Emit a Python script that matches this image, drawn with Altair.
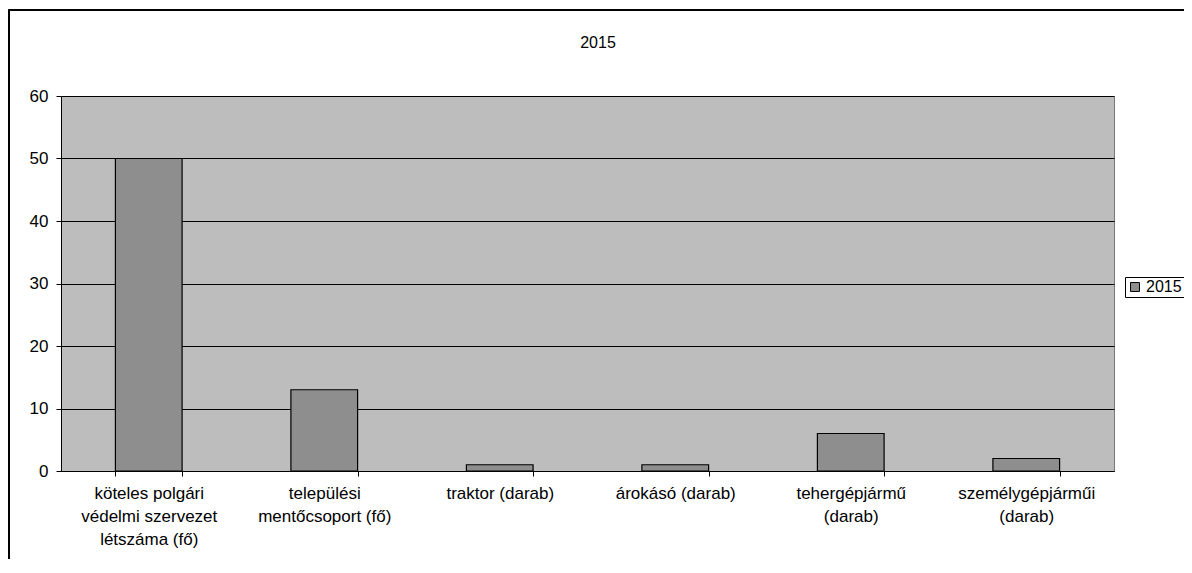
import altair as alt
import pandas as pd

categories = [
    "köteles polgári\nvédelmi szervezet\nlétszáma (fő)",
    "települési\nmentőcsoport (fő)",
    "traktor (darab)",
    "árokásó (darab)",
    "tehergépjármű\n(darab)",
    "személygépjárműi\n(darab)",
]
values_2015 = [50, 13, 1, 1, 6, 2]
series_name = "2015"
chart_title = "2015"
y_ticks = [0, 10, 20, 30, 40, 50, 60]

df = pd.DataFrame({"cat": categories, "val": values_2015, "series": series_name})
title_df = pd.DataFrame({"t": [chart_title]})

FONT = "Liberation Sans"
W, H = 1053, 375

bars = alt.Chart(df).mark_bar(stroke="black", strokeWidth=1.2).encode(
    x=alt.X("cat:N", sort=categories, title=None,
            scale=alt.Scale(paddingInner=0.62, paddingOuter=0.31),
            axis=alt.Axis(labelAngle=0,
                          labelExpr="isValid(datum.value) ? split(datum.value, '\\n') : ''",
                          labelFontSize=17, labelFont=FONT, labelColor="black",
                          labelLineHeight=23, labelPadding=9, labelBaseline="top",
                          tickBand="extent", tickSize=5, tickColor="black",
                          domainColor="black", grid=False)),
    y=alt.Y("val:Q", title=None,
            scale=alt.Scale(domain=[0, 60], nice=False),
            axis=alt.Axis(values=y_ticks, labelFontSize=17, labelFont=FONT,
                          labelColor="black", labelPadding=8, tickSize=5,
                          tickColor="black", domainColor="black",
                          gridColor="black", gridWidth=1, gridOpacity=1)),
    fill=alt.Fill("series:N", title=None,
                  scale=alt.Scale(range=["#8e8e8e"]),
                  legend=alt.Legend(orient="none", legendX=1064, legendY=181,
                                    symbolType="square", symbolSize=80,
                                    symbolStrokeColor="black", symbolStrokeWidth=1,
                                    symbolFillColor="#bbbbbb",
                                    labelFontSize=16, labelFont=FONT,
                                    labelOffset=3,
                                    labelColor="black", strokeColor="black",
                                    padding=2, fillColor="white")),
)

frame = alt.Chart(df).mark_rect(fill=None, stroke="black", strokeWidth=1.2).encode(
    x=alt.value(-52), x2=alt.value(1200), y=alt.value(-86), y2=alt.value(600)
)

title_text = alt.Chart(title_df).mark_text(
    fontSize=16, font=FONT, color="black", baseline="middle", align="center"
).encode(text="t:N", x=alt.value(537), y=alt.value(-53))

chart = alt.layer(frame, bars, title_text).properties(
    width=W, height=H,
    autosize=alt.AutoSizeParams(type="none"),
    padding={"left": 53, "top": 88, "right": 70, "bottom": 88},
).configure(
    background="white",
    view=alt.ViewConfig(fill="#bdbdbd", stroke="#777", strokeWidth=1),
)

chart.save("out.html", embed_options={"renderer": "svg", "actions": False})
